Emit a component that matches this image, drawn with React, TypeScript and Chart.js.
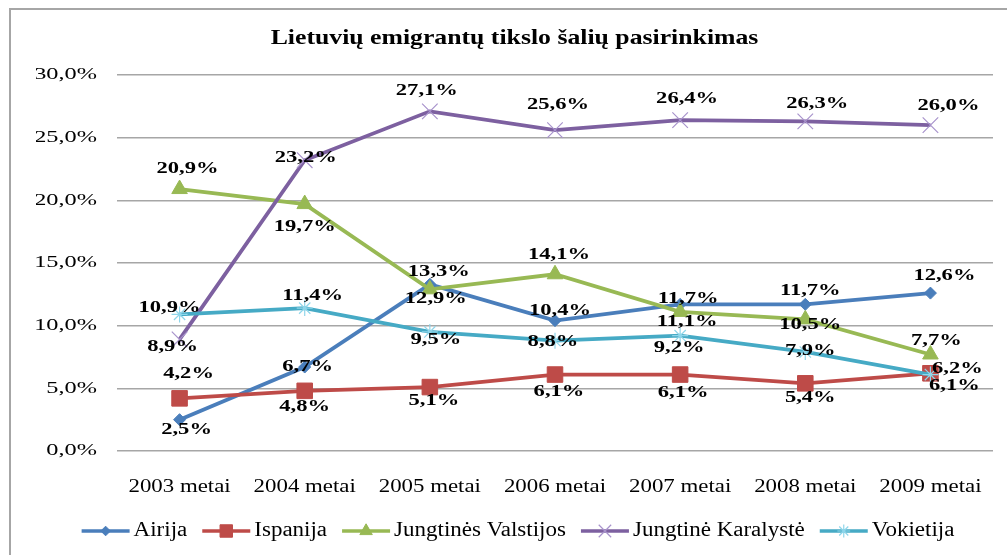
import React, { useEffect, useRef } from "react";
import { Chart, registerables } from "chart.js";
import { drawPoint } from "chart.js/helpers";

Chart.register(...registerables);

const FONT = "'Liberation Serif', 'Times New Roman', serif";

const TITLE = "Lietuvių emigrantų tikslo šalių pasirinkimas";
const categories = ["2003 metai", "2004 metai", "2005 metai", "2006 metai", "2007 metai", "2008 metai", "2009 metai"];
const seriesNames = ["Airija", "Ispanija", "Jungtinės Valstijos", "Jungtinė Karalystė", "Vokietija"];

const airija = [2.5, 6.7, 13.3, 10.4, 11.7, 11.7, 12.6];
const ispanija = [4.2, 4.8, 5.1, 6.1, 6.1, 5.4, 6.2];
const jungtinesValstijos = [20.9, 19.7, 12.9, 14.1, 11.1, 10.5, 7.7];
const jungtineKaralyste = [8.9, 23.2, 27.1, 25.6, 26.4, 26.3, 26.0];
const vokietija = [10.9, 11.4, 9.5, 8.8, 9.2, 7.9, 6.1];

const yTickValues = [0, 5, 10, 15, 20, 25, 30];

// data-label nudges relative to each point: [dx, dy]
const airijaLabelPos = [[7, 10], [3, 0], [9, -12], [5, -10], [8, -6], [5, -14], [14, -17]];
const ispanijaLabelPos = [[9, -25], [0, 16], [4, 14], [4, 17], [3, 18], [5, 15], [27, -4]];
const jungtinesValstijosLabelPos = [[8, -20], [0, 23], [6, 10], [4, -19], [7, 10], [5, 5], [6, -14]];
const jungtineKaralysteLabelPos = [[-7, 7], [1, -2], [-3, -20], [3, -25], [7, -21], [12, -18], [18, -19]];
const vokietijaLabelPos = [[-10, -7], [8, -12], [6, 8], [-2, 1], [-1, 12], [5, -1], [24, 11]];

const seriesValues = [airija, ispanija, jungtinesValstijos, jungtineKaralyste, vokietija];
const labelPositions = [airijaLabelPos, ispanijaLabelPos, jungtinesValstijosLabelPos, jungtineKaralysteLabelPos, vokietijaLabelPos];

const lineColors = ["#4A7EBB", "#BE4B48", "#98B954", "#7D60A0", "#46AAC5"];
const markerFill = ["#4A7EBB", "#BE4B48", "#98B954", "rgba(0,0,0,0)", "rgba(0,0,0,0)"];
const markerStroke = ["#4A7EBB", "#BE4B48", "#98B954", "#A893CC", "#8FD6EA"];
const markerStyles = ["rectRot", "rect", "triangle", "crossRot", "star"];
const markerRadius = [6, 11, 9, 11, 8];

const fmtPct = (v: number) => v.toFixed(1).replace(".", ",") + "%";

// horizontal stretch of text, keyed by font px size (reference text is horizontally widened)
const STRETCH: Record<number, number> = { 17: 1.43, 18: 1.27, 22: 1.17 };

function patchContext(ctx: CanvasRenderingContext2D) {
  const anyCtx = ctx as any;
  if (anyCtx.__patched) return;
  anyCtx.__patched = true;
  const orig = ctx.fillText;
  anyCtx.fillText = function (text: string, x: number, y: number, maxWidth?: number) {
    const m = /(\d+(?:\.\d+)?)px/.exec(ctx.font);
    const sx = m ? STRETCH[Math.round(parseFloat(m[1]))] : undefined;
    if (!sx) {
      if (maxWidth === undefined) return orig.call(ctx, text, x, y);
      return orig.call(ctx, text, x, y, maxWidth);
    }
    ctx.save();
    ctx.translate(x, y);
    ctx.scale(sx, 1);
    if (maxWidth === undefined) orig.call(ctx, text, 0, 0);
    else orig.call(ctx, text, 0, 0, maxWidth / sx);
    ctx.restore();
  };
}

const framePlugin = {
  id: "frame",
  beforeDraw(chart: any) {
    const ctx = chart.ctx;
    ctx.save();
    ctx.fillStyle = "#ffffff";
    ctx.fillRect(0, 0, chart.width, chart.height);
    ctx.fillStyle = "#a6a6a6";
    ctx.fillRect(9, 8, 2, chart.height - 8);
    ctx.fillRect(9, 8, chart.width - 9, 2);
    ctx.restore();
  },
};

const dataLabelPlugin = {
  id: "dataLabels",
  afterDatasetsDraw(chart: any) {
    const ctx = chart.ctx;
    ctx.save();
    ctx.font = `bold 16px ${FONT}`;
    ctx.textAlign = "center";
    ctx.textBaseline = "middle";
    ctx.fillStyle = "#000000";
    chart.data.datasets.forEach((ds: any, i: number) => {
      const meta = chart.getDatasetMeta(i);
      meta.data.forEach((pt: any, j: number) => {
        const [dx, dy] = labelPositions[i][j];
        ctx.save();
        ctx.translate(pt.x + dx, pt.y + dy);
        ctx.scale(1.41, 1);
        ctx.fillText(fmtPct(ds.data[j]), 0, 0);
        ctx.restore();
      });
    });
    ctx.restore();
  },
};

const LEGEND_CX = 518;
const LEGEND_Y = 531;

const legendPlugin = {
  id: "customLegend",
  afterDraw(chart: any) {
    const ctx = chart.ctx;
    ctx.save();
    ctx.font = `20px ${FONT}`;
    const sx = 1.15;
    const lineLen = 48;
    const gapText = 4;
    const gapItem = 15;
    const items = chart.data.datasets.map((ds: any) => ({ ds, w: ctx.measureText(ds.label).width * sx }));
    const total = items.reduce((s: number, it: any) => s + lineLen + gapText + it.w, 0) + gapItem * (items.length - 1);
    let x = LEGEND_CX - total / 2;
    const y = LEGEND_Y;
    items.forEach(({ ds, w }: any) => {
      ctx.strokeStyle = ds.borderColor;
      ctx.lineWidth = 3.5;
      ctx.beginPath();
      ctx.moveTo(x, y);
      ctx.lineTo(x + lineLen, y);
      ctx.stroke();
      ctx.fillStyle = ds.pointBackgroundColor;
      ctx.strokeStyle = ds.pointBorderColor;
      ctx.lineWidth = ds.pointBorderWidth;
      drawPoint(ctx, { pointStyle: ds.pointStyle, rotation: 0, radius: ds.pointRadius * 0.8, borderWidth: ds.pointBorderWidth }, x + lineLen / 2, y);
      ctx.fillStyle = "#000000";
      ctx.textAlign = "left";
      ctx.textBaseline = "middle";
      ctx.save();
      ctx.translate(x + lineLen + gapText, y);
      ctx.scale(sx, 1);
      ctx.fillText(ds.label, 0, 0);
      ctx.restore();
      x += lineLen + gapText + w + gapItem;
    });
    ctx.restore();
  },
};

export default function App() {
  const canvasRef = useRef<HTMLCanvasElement | null>(null);

  useEffect(() => {
    const canvas = canvasRef.current;
    if (!canvas) return;
    const ctx = canvas.getContext("2d");
    if (!ctx) return;
    patchContext(ctx);

    const datasets = seriesNames.map((name, i) => ({
      label: name,
      data: seriesValues[i],
      borderColor: lineColors[i],
      backgroundColor: lineColors[i],
      borderWidth: 3.8,
      tension: 0,
      fill: false,
      pointStyle: markerStyles[i],
      pointRadius: markerRadius[i],
      pointHoverRadius: markerRadius[i],
      pointBackgroundColor: markerFill[i],
      pointBorderColor: markerStroke[i],
      pointBorderWidth: i >= 3 ? 1.2 : 1,
      order: -i,
    }));

    const chart = new Chart(ctx, {
      type: "line",
      data: { labels: categories, datasets: datasets as any },
      options: {
        animation: false,
        responsive: false,
        devicePixelRatio: 1,
        events: [],
        layout: { padding: { left: 36, right: 14, top: 0, bottom: 54 } },
        plugins: {
          legend: { display: false },
          tooltip: { enabled: false },
          title: {
            display: true,
            text: TITLE,
            color: "#000000",
            font: { family: FONT, size: 22, weight: "bold" },
            padding: { top: 25.3, bottom: 23.3 },
          },
        },
        scales: {
          x: {
            offset: true,
            grid: { display: false },
            border: { display: false },
            ticks: {
              color: "#000000",
              font: { family: FONT, size: 18 },
              padding: 17,
              maxRotation: 0,
              autoSkip: false,
            },
            afterFit(scale: any) {
              scale.height = 50;
            },
          },
          y: {
            min: 0,
            max: 30,
            border: { display: false },
            grid: { color: "#a6a6a6", lineWidth: 1.5, drawTicks: false },
            ticks: {
              color: "#000000",
              font: { family: FONT, size: 17 },
              padding: 20,
              callback: (v: any) => fmtPct(Number(v)),
            },
            afterBuildTicks(scale: any) {
              scale.ticks = yTickValues.map((v) => ({ value: v }));
            },
            afterFit(scale: any) {
              scale.width = 81;
            },
          },
        },
      } as any,
      plugins: [framePlugin, dataLabelPlugin, legendPlugin],
    });

    return () => {
      chart.destroy();
    };
  }, []);

  return (
    <div style={{ position: "fixed", left: 0, top: 0, width: 1007, height: 555, background: "#fff" }}>
      <canvas ref={canvasRef} width={1007} height={555} style={{ display: "block", width: 1007, height: 555 }} />
    </div>
  );
}
